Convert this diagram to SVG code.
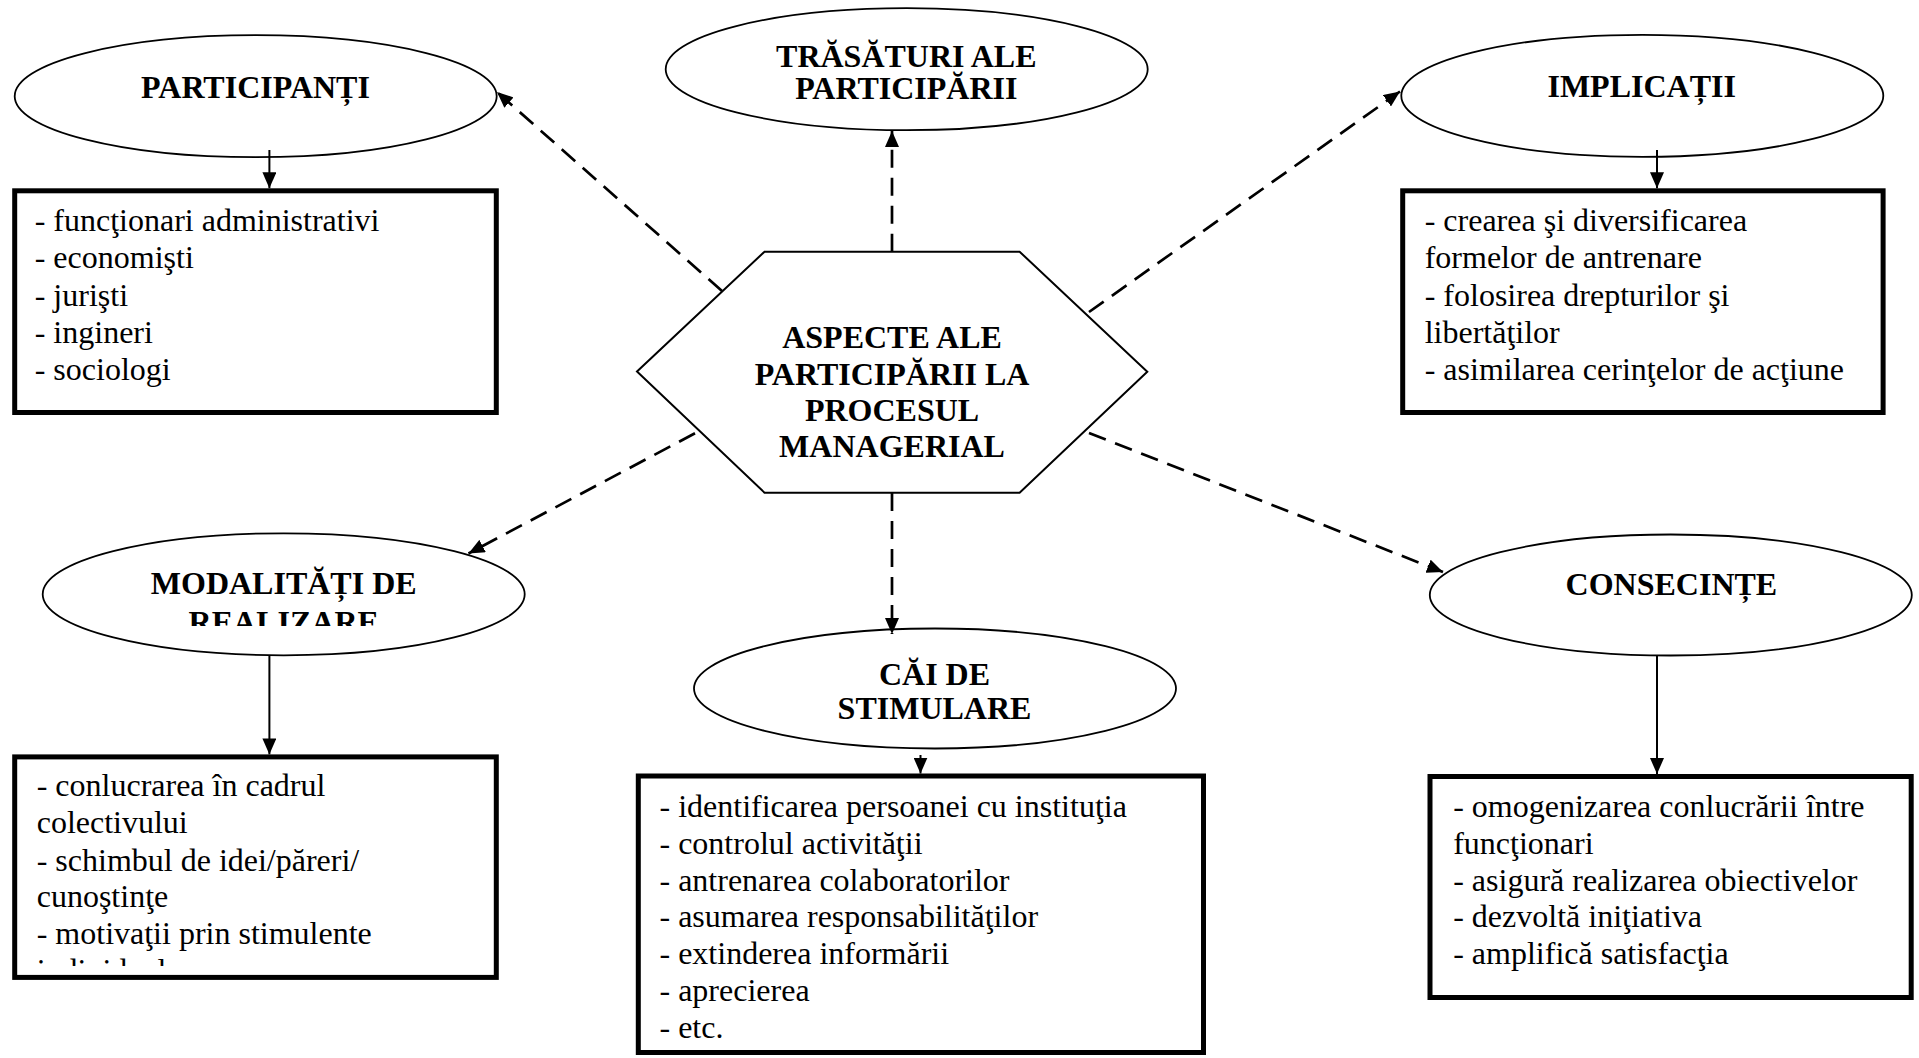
<svg xmlns="http://www.w3.org/2000/svg" width="1919" height="1058" viewBox="0 0 1919 1058">
  <style>
    .bg { fill: #ffffff; }
    .oval { fill: #ffffff; stroke: #000000; stroke-width: 1.8; }
    .hex { fill: #ffffff; stroke: #000000; stroke-width: 2; }
    .box { fill: #ffffff; stroke: #000000; stroke-width: 5; }
    .title { font-family: "Liberation Serif", "Times New Roman", serif; font-weight: bold; font-size: 32px; fill: #000000; text-anchor: middle; }
    .item { font-family: "Liberation Serif", "Times New Roman", serif; font-size: 32px; fill: #000000; }
    .dash { fill: none; stroke: #000000; stroke-width: 2.7; stroke-dasharray: 18 10; marker-end: url(#head); }
    .solid { fill: none; stroke: #000000; stroke-width: 2; marker-end: url(#head); }
  </style>
  <defs>
    <marker id="head" markerUnits="userSpaceOnUse" viewBox="0 0 16 14" markerWidth="16" markerHeight="14" refX="16" refY="7" orient="auto">
      <path d="M0,0 L16,7 L0,14 Z" fill="#000000"/>
    </marker>
    <clipPath id="clipModTitle">
      <rect x="40" y="530" width="490" height="96"/>
    </clipPath>
    <clipPath id="clipModList">
      <rect x="17" y="759" width="477" height="207"/>
    </clipPath>
  </defs>

  <rect class="bg" x="0" y="0" width="1919" height="1058"/>

  <!-- central hexagon -->
  <g id="aspecte">
    <polygon class="hex" points="637,371.5 764.5,251.7 1019.6,251.7 1147.3,371.7 1019.6,492.7 764.5,492.7"/>
    <text class="title" x="892" y="348.3">ASPECTE ALE</text>
    <text class="title" x="892" y="385">PARTICIPĂRII LA</text>
    <text class="title" x="892" y="420.7">PROCESUL</text>
    <text class="title" x="892" y="457.3">MANAGERIAL</text>
  </g>

  <!-- participants -->
  <g id="participanti">
    <ellipse class="oval" cx="255.7" cy="96.2" rx="241" ry="61"/>
    <text class="title" x="255.5" y="97.7">PARTICIPANȚI</text>
  </g>
  <g id="participanti-lista">
    <rect class="box" x="14.7" y="190.8" width="481.6" height="221.7"/>
    <text class="item" x="34.7" y="231">- funcţionari administrativi</text>
    <text class="item" x="34.7" y="268.3">- economişti</text>
    <text class="item" x="34.7" y="306">- jurişti</text>
    <text class="item" x="34.7" y="343.3">- ingineri</text>
    <text class="item" x="34.7" y="380">- sociologi</text>
  </g>

  <!-- features -->
  <g id="trasaturi">
    <ellipse class="oval" cx="906.7" cy="69.2" rx="241" ry="61"/>
    <text class="title" x="906.3" y="66.7">TRĂSĂTURI ALE</text>
    <text class="title" x="906.3" y="99.3">PARTICIPĂRII</text>
  </g>

  <!-- implications -->
  <g id="implicatii">
    <ellipse class="oval" cx="1642.3" cy="95.8" rx="241" ry="61"/>
    <text class="title" x="1641.7" y="96.7">IMPLICAȚII</text>
  </g>
  <g id="implicatii-lista">
    <rect class="box" x="1402.7" y="190.8" width="480.4" height="221.7"/>
    <text class="item" x="1424.7" y="231">- crearea şi diversificarea</text>
    <text class="item" x="1424.7" y="268.3">formelor de antrenare</text>
    <text class="item" x="1424.7" y="306">- folosirea drepturilor şi</text>
    <text class="item" x="1424.7" y="343.3">libertăţilor</text>
    <text class="item" x="1424.7" y="380">- asimilarea cerinţelor de acţiune</text>
  </g>

  <!-- ways of carrying out -->
  <g id="modalitati">
    <ellipse class="oval" cx="283.7" cy="594.3" rx="241" ry="61"/>
    <g clip-path="url(#clipModTitle)">
      <text class="title" x="283.7" y="593.8">MODALITĂȚI DE</text>
      <text class="title" x="283.7" y="633">REALIZARE</text>
    </g>
  </g>
  <g id="modalitati-lista">
    <rect class="box" x="14.7" y="756.9" width="481.6" height="220.5"/>
    <g clip-path="url(#clipModList)">
      <text class="item" x="36.7" y="796.3">- conlucrarea în cadrul</text>
      <text class="item" x="36.7" y="833">colectivului</text>
      <text class="item" x="36.7" y="870.7">- schimbul de idei/păreri/</text>
      <text class="item" x="36.7" y="907.1">cunoştinţe</text>
      <text class="item" x="36.7" y="943.8">- motivaţii prin stimulente</text>
      <text class="item" x="36.7" y="980.5">individuale</text>
    </g>
  </g>

  <!-- stimulation -->
  <g id="cai-stimulare">
    <ellipse class="oval" cx="935" cy="688.5" rx="241" ry="60"/>
    <text class="title" x="934.5" y="684.5">CĂI DE</text>
    <text class="title" x="934.5" y="718.5">STIMULARE</text>
  </g>
  <g id="cai-stimulare-lista">
    <rect class="box" x="638.3" y="776" width="565.2" height="276.5"/>
    <text class="item" x="659.5" y="816.7">- identificarea persoanei cu instituţia</text>
    <text class="item" x="659.5" y="854.1">- controlul activităţii</text>
    <text class="item" x="659.5" y="890.7">- antrenarea colaboratorilor</text>
    <text class="item" x="659.5" y="927">- asumarea responsabilităţilor</text>
    <text class="item" x="659.5" y="964.4">- extinderea informării</text>
    <text class="item" x="659.5" y="1001">- aprecierea</text>
    <text class="item" x="659.5" y="1038">- etc.</text>
  </g>

  <!-- consequences -->
  <g id="consecinte">
    <ellipse class="oval" cx="1670.8" cy="595" rx="241" ry="60.5"/>
    <text class="title" x="1671.4" y="595.4">CONSECINȚE</text>
  </g>
  <g id="consecinte-lista">
    <rect class="box" x="1430" y="776.5" width="481.2" height="221"/>
    <text class="item" x="1453.2" y="816.7">- omogenizarea conlucrării între</text>
    <text class="item" x="1453.2" y="854.1">funcţionari</text>
    <text class="item" x="1453.2" y="890.7">- asigură realizarea obiectivelor</text>
    <text class="item" x="1453.2" y="927">- dezvoltă iniţiativa</text>
    <text class="item" x="1453.2" y="964.4">- amplifică satisfacţia</text>
  </g>

  <!-- connectors -->
  <g id="connectors">
    <line class="dash" x1="722" y1="291" x2="497" y2="92"/>
    <line class="dash" x1="892" y1="251.7" x2="892" y2="131"/>
    <line class="dash" x1="1089" y1="312" x2="1400" y2="91.5"/>
    <line class="dash" x1="695" y1="433.3" x2="468.5" y2="553.5"/>
    <line class="dash" x1="892" y1="493" x2="892" y2="634"/>
    <line class="dash" x1="1089" y1="433" x2="1443" y2="572"/>
    <line class="solid" x1="269.4" y1="150" x2="269.4" y2="188.3"/>
    <line class="solid" x1="1657" y1="150" x2="1657" y2="188.3"/>
    <line class="solid" x1="269.4" y1="655" x2="269.4" y2="754.4"/>
    <line class="solid" x1="920.5" y1="755" x2="920.5" y2="773.5"/>
    <line class="solid" x1="1657" y1="655.5" x2="1657" y2="774"/>
  </g>
</svg>
